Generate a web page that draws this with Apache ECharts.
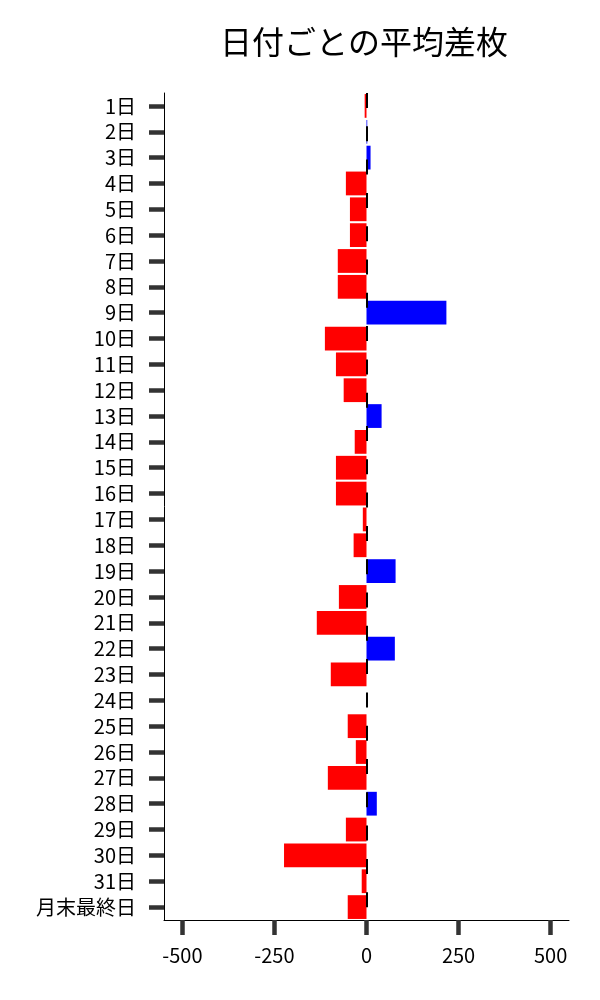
<!DOCTYPE html>
<html>
<head>
<meta charset="utf-8">
<script src="https://cdn.jsdelivr.net/npm/echarts@6/dist/echarts.min.js"></script>
<style>html,body{margin:0;padding:0;background:#fff}#c{width:600px;height:1000px}</style>
</head>
<body>
<div id="c"></div>
<script>
const titleText = '日付ごとの平均差枚';
const categories = ['1日','2日','3日','4日','5日','6日','7日','8日','9日','10日','11日','12日','13日','14日','15日','16日','17日','18日','19日','20日','21日','22日','23日','24日','25日','26日','27日','28日','29日','30日','31日','月末最終日'];
const values = [-5, 2, 11, -56, -45, -45, -78, -78, 217, -113, -83, -62, 41, -32, -83, -83, -10, -35, 79, -75, -135, 77, -97, 0, -51, -29, -105, 28, -56, -224, -13, -51];
const xTicks = [-500, -250, 0, 250, 500];

const font = '"Noto Sans CJK JP", "Noto Sans", sans-serif';
const chart = echarts.init(document.getElementById('c'), null, {renderer: 'canvas'});
chart.setOption({
  animation: false,
  backgroundColor: '#fff',
  title: {
    text: titleText, left: 359, top: 21, textAlign: 'center',
    textStyle: {fontFamily: font, fontSize: 32, fontWeight: 'normal', color: '#000'}
  },
  grid: {left: 164, right: 31, top: 93, bottom: 80, containLabel: false},
  xAxis: {
    type: 'value', min: -550, max: 550,
    splitLine: {show: false},
    axisLine: {show: true, onZero: false, lineStyle: {color: '#000', width: 1}},
    axisTick: {show: true, length: 15, lineStyle: {color: '#333', width: 4.5},
      customValues: xTicks},
    axisLabel: {fontFamily: font, fontSize: 20, color: '#000', margin: 25, customValues: xTicks}
  },
  yAxis: {
    type: 'category', data: categories, inverse: true,
    axisLine: {show: true, onZero: false, lineStyle: {color: '#000', width: 1}},
    axisTick: {show: true, alignWithLabel: true, interval: 0, length: 15, lineStyle: {color: '#333', width: 4.5}},
    axisLabel: {fontFamily: font, fontSize: 20, color: '#000', margin: 28, interval: 0}
  },
  series: [{
    type: 'bar',
    barWidth: '92%',
    data: values.map(v => ({value: v, itemStyle: {color: v < 0 ? '#ff0000' : '#0000ff'}})),
    markLine: {
      silent: true, symbol: ['none', 'none'],
      label: {show: false},
      lineStyle: {color: '#000', width: 2, type: [15, 18.3]},
      data: [{xAxis: 0}]
    }
  }]
});
</script>
</body>
</html>
